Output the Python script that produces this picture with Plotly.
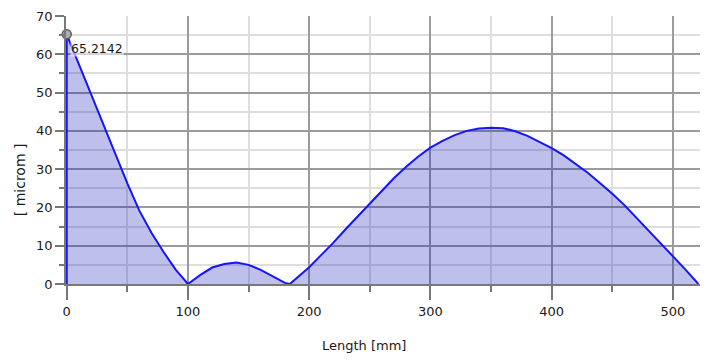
import plotly.graph_objects as go

# Data
length_mm = [0, 10, 20, 30, 40, 50, 60, 70, 80, 90, 100,
             110, 120, 130, 140, 150, 160, 170, 180, 184,
             190, 200, 210, 220, 230, 240, 250, 260, 270, 280, 290, 300,
             310, 320, 330, 340, 350, 360, 370, 380, 390, 400, 410, 420,
             430, 440, 450, 460, 470, 480, 490, 500, 510, 521]
deviation = [65.2142, 57.4, 49.6, 41.8, 34.0, 26.3, 19.1, 13.3, 8.3, 3.7, 0.0,
             2.3, 4.3, 5.2, 5.6, 5.0, 3.7, 2.0, 0.3, 0.0,
             1.6, 4.4, 7.6, 10.8, 14.3, 17.7, 21.0, 24.4, 27.7, 30.6, 33.3, 35.6,
             37.4, 38.9, 40.0, 40.6, 40.8, 40.7, 39.9, 38.7, 37.2, 35.5, 33.6, 31.4,
             29.0, 26.3, 23.6, 20.6, 17.3, 13.9, 10.5, 7.2, 3.9, 0.0]
marker_label = "65.2142"
x_title = "Length [mm]"
y_title = "[ microm ]"

FONT = "DejaVu Sans, Verdana, sans-serif"
MAJ = "rgb(155,155,155)"
MIN = "rgb(222,222,222)"
AX = "rgb(120,120,120)"

fig = go.Figure()
fig.add_trace(go.Scatter(
    x=length_mm, y=deviation, mode="lines", fill="tozeroy",
    fillcolor="rgba(20,20,180,0.27)",
    line=dict(color="rgb(20,20,255)", width=2),
    hoverinfo="skip", showlegend=False))
# left vertical edge of the filled profile
fig.add_trace(go.Scatter(
    x=[length_mm[0], length_mm[0]], y=[0, deviation[0]], mode="lines",
    line=dict(color="rgb(20,20,255)", width=2),
    hoverinfo="skip", showlegend=False))
# marker at the maximum
fig.add_trace(go.Scatter(
    x=[length_mm[0]], y=[deviation[0]], mode="markers", cliponaxis=False,
    marker=dict(size=9, color="rgb(175,175,175)",
                line=dict(color="rgb(90,90,90)", width=1.5)),
    hoverinfo="skip", showlegend=False))

fig.add_annotation(x=length_mm[0], y=deviation[0], text=marker_label,
                   showarrow=False, xanchor="left", yanchor="top",
                   xshift=3, yshift=-6, bgcolor="rgba(255,255,255,0.55)",
                   borderpad=0,
                   font=dict(family=FONT, size=12.5, color="#1a1a1a"))
fig.add_annotation(xref="paper", yref="paper", x=0.469, y=-0.231,
                   text=x_title, showarrow=False, xanchor="center", yanchor="middle",
                   font=dict(family=FONT, size=13, color="#1a1a1a"))
fig.add_annotation(xref="paper", yref="paper", x=-0.072, y=0.388,
                   text=y_title, showarrow=False, textangle=-90,
                   xanchor="center", yanchor="middle",
                   font=dict(family=FONT, size=14, color="#1a1a1a"))

# the page body adds an 8 px offset, so the figure is 8 px smaller on each axis
fig.update_layout(
    width=700, height=354,
    margin=dict(l=58, r=6, t=8, b=78),
    paper_bgcolor="white", plot_bgcolor="white",
    font=dict(family=FONT, size=13, color="#1a1a1a"),
    xaxis=dict(range=[-0.6, 524], tickmode="linear", tick0=0, dtick=100,
               automargin=False,
               showgrid=True, gridcolor=MAJ, gridwidth=1.5,
               ticks="outside", ticklen=14, tickwidth=1.5, tickcolor=AX,
               showline=True, linecolor=AX, linewidth=2,
               zeroline=False,
               minor=dict(tick0=0, dtick=50, showgrid=True, gridcolor=MIN, gridwidth=1.5,
                          ticks="outside", ticklen=6, tickcolor=AX, tickwidth=1.5),
               tickfont=dict(family=FONT, size=13)),
    yaxis=dict(range=[0, 70], tickmode="linear", tick0=0, dtick=10,
               automargin=False,
               showgrid=True, gridcolor=MAJ, gridwidth=1.5,
               ticks="outside", ticklen=9, tickwidth=1.5, tickcolor=AX,
               showline=True, linecolor=AX, linewidth=1.5,
               zeroline=False,
               minor=dict(tick0=0, dtick=5, showgrid=True, gridcolor=MIN, gridwidth=1.5,
                          ticks="outside", ticklen=5, tickcolor=AX, tickwidth=1.5),
               tickfont=dict(family=FONT, size=13)),
)

fig.write_html("out.html")
